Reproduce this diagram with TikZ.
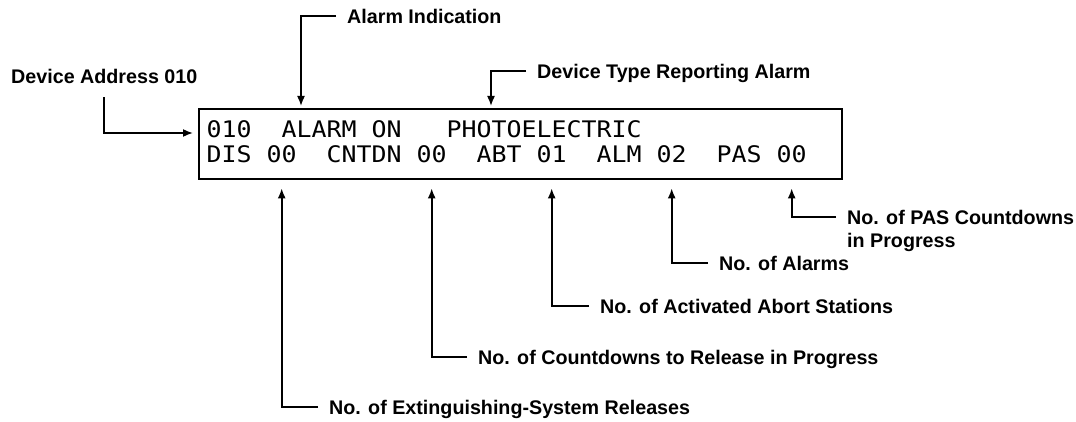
\documentclass[tikz,border=0pt]{standalone}
\usepackage{fontspec}
\setmainfont{Liberation Sans}
\newfontfamily\lcdfont[FakeStretch=1.093]{DejaVu Sans Mono}
\usetikzlibrary{arrows.meta,positioning}

\begin{document}
\begin{tikzpicture}[x=1pt,y=-1pt,>={Latex[length=10pt,width=8pt]},
  lbl/.style={font=\fontsize{19.7}{23}\selectfont\bfseries,anchor=west,inner xsep=11pt,inner ysep=0pt,text depth=0pt},
  lcd/.style={font=\fontsize{22.8}{25}\lcdfont,anchor=base west,inner sep=0pt},
  lead/.style={line width=1.6pt}]
  \useasboundingbox (0,0) rectangle (1076,422);
  % display window
  \node[draw,line width=2.4pt,minimum width=643pt,minimum height=70pt,inner sep=0pt,anchor=north west] (disp) at (198,108) {};
  \node[lcd] (addr) at (206.5,138) {010};
  \node[lcd] (alarm) at (281.5,138) {ALARM};
  \node[lcd] (on) at (371.5,138) {ON};
  \node[lcd] (photo) at (446.5,138) {PHOTOELECTRIC};
  \node[lcd] (dis) at (206.5,163) {DIS};
  \node[lcd] (disn) at (266.5,163) {00};
  \node[lcd] (cnt) at (326.5,163) {CNTDN};
  \node[lcd] (cntn) at (416.5,163) {00};
  \node[lcd] (abt) at (476.5,163) {ABT};
  \node[lcd] (abtn) at (536.5,163) {01};
  \node[lcd] (alm) at (596.5,163) {ALM};
  \node[lcd] (almn) at (656.5,163) {02};
  \node[lcd] (pas) at (716.5,163) {PAS};
  \node[lcd] (pasn) at (776.5,163) {00};
  % arrow tips
  \coordinate (tipA) at (301,106);
  \coordinate (tipT) at (491,106);
  \coordinate (tipD) at (193,133);
  \coordinate (tipE) at ([yshift=-8pt]disn.center |- disp.south);
  \coordinate (tipC) at ([yshift=-8pt]cntn.center |- disp.south);
  \coordinate (tipB) at ([yshift=-8pt]abtn.center |- disp.south);
  \coordinate (tipM) at ([yshift=-8pt]almn.center |- disp.south);
  \coordinate (tipP) at ([yshift=-8pt]pasn.center |- disp.south);
  % labels
  \node[lbl] (almind) at (336,16) {Alarm Indication};
  \node[lbl] (devtype) at (526,71) {Device Type Reporting Alarm};
  \node[lbl,inner xsep=0pt] (devaddr) at (11,76) {Device Address 010};
  \node[lbl] (pascnt) at (836,217) {No. of PAS Countdowns};
  \node[lbl] (pasprog) at ([yshift=-23pt]pascnt.west) {in Progress};
  \node[lbl] (almcnt) at (708,263) {No. of Alarms};
  \node[lbl] (abtcnt) at (589,306) {No. of Activated Abort Stations};
  \node[lbl] (relcnt) at (467,357) {No. of Countdowns to Release in Progress};
  \node[lbl] (extcnt) at (318,407) {No. of Extinguishing-System Releases};
  % leaders
  \draw[lead,->] (almind.west) -| (tipA);
  \draw[lead,->] (devtype.west) -| (tipT);
  \draw[lead,->,shorten <=14pt] (devaddr.south) |- (tipD);
  \draw[lead,->] (pascnt.west) -| (tipP);
  \draw[lead,->] (almcnt.west) -| (tipM);
  \draw[lead,->] (abtcnt.west) -| (tipB);
  \draw[lead,->] (relcnt.west) -| (tipC);
  \draw[lead,->] (extcnt.west) -| (tipE);
\end{tikzpicture}
\end{document}
